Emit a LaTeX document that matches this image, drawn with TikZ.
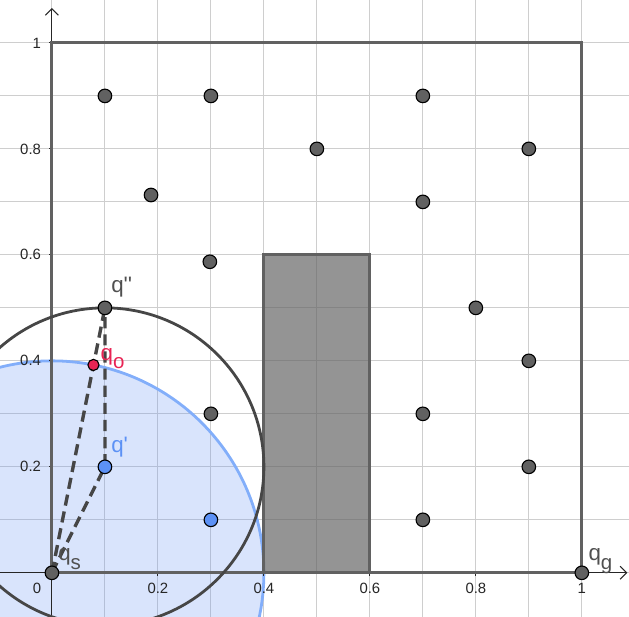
\documentclass[tikz,border=0pt]{standalone}
\usepackage{fontspec}
\setmainfont{Liberation Sans}
\usetikzlibrary{arrows.meta,positioning}
\definecolor{ggbGrid}{RGB}{206,206,206}
\definecolor{ggbDark}{RGB}{97,97,97}
\definecolor{ggbEdge}{RGB}{70,70,70}
\definecolor{ggbBlue}{RGB}{103,147,243}
\definecolor{ggbBlueLine}{RGB}{130,174,250}
\definecolor{ggbBluePt}{RGB}{92,145,245}
\definecolor{ggbRed}{RGB}{232,36,84}
\definecolor{ggbText}{RGB}{80,80,80}
\newcommand{\qsub}[1]{q\raisebox{-0.7ex}{\fontsize{11}{13}\selectfont #1}}
\pgfdeclarelayer{front}
\pgfsetlayers{main,front}
\tikzset{
  pt/.style={circle, draw=black, line width=0.6pt, fill=ggbDark, inner sep=0pt, minimum size=7.3pt},
  lbl/.style={inner sep=0pt, anchor=base west, font=\fontsize{12}{14}\selectfont},
  ticklbl/.style={inner sep=0pt, font=\fontsize{8}{10}\selectfont, text=black!85},
  edge/.style={ggbEdge, line width=1.8pt, dash pattern=on 6pt off 3.2pt}
}

\begin{document}
\begin{tikzpicture}[x=10cm,y=10cm]
    \useasboundingbox (-0.098,-0.083) rectangle (1.089,1.081);
    \draw[ggbGrid, line width=0.5pt, step=0.1] (-0.098,-0.083) grid (1.089,1.081);

    % free region round q_s
    \fill[ggbBlue, fill opacity=0.25] (0,0) circle (0.4);
    \draw[ggbBlueLine, line width=1.5pt] (0,0) circle (0.4);

    % axes
    \draw[black!85, line width=0.6pt, -{Straight Barb[length=3.5pt,width=7pt]}] (-0.098,0) -- (1.086,0);
    \draw[black!85, line width=0.6pt, -{Straight Barb[length=3.5pt,width=7pt]}] (0,-0.083) -- (0,1.066);
    \foreach \t in {0.2,0.4,0.6,0.8,1} {
        \draw[black!85, line width=0.5pt] (\t,0) -- (\t,-0.006);
        \draw[black!85, line width=0.5pt] (0,\t) -- (-0.006,\t);
        \node[ticklbl] at (\t,-0.029) {\t};
        \node[ticklbl, anchor=east] at (-0.020,\t) {\t};
    }
    \node[ticklbl] at (-0.028,-0.029) {0};

    % workspace and obstacle
    \draw[ggbDark, line width=1.6pt] (0,0) rectangle (1,1);
    \filldraw[fill=ggbDark, fill opacity=0.68, draw=ggbDark, line width=1.6pt] (0.4,0) rectangle (0.6,0.6);
    \draw[ggbEdge, line width=1.5pt] (0.1,0.2) circle (0.3);

    \begin{pgfonlayer}{front}
        \node[pt] (s1) at (0.1,0.9) {};
        \node[pt] (s2) at (0.3,0.9) {};
        \node[pt] (s3) at (0.7,0.9) {};
        \node[pt] (s4) at (0.5,0.8) {};
        \node[pt] (s5) at (0.9,0.8) {};
        \node[pt] (s6) at (0.187,0.713) {};
        \node[pt] (s7) at (0.7,0.7) {};
        \node[pt] (s8) at (0.298,0.587) {};
        \node[pt] (s9) at (0.8,0.5) {};
        \node[pt] (s10) at (0.9,0.4) {};
        \node[pt] (s11) at (0.3,0.3) {};
        \node[pt] (s12) at (0.7,0.3) {};
        \node[pt] (s13) at (0.9,0.2) {};
        \node[pt] (s14) at (0.7,0.1) {};
        \node[pt, fill=ggbBluePt] (s15) at (0.3,0.1) {};

        \node[pt] (qs) at (0,0) {};
        \node[pt] (qg) at (1,0) {};
        \node[pt] (qpp) at (0.1,0.5) {};
        \node[pt, fill=ggbBluePt] (qp) at (0.1,0.2) {};
        \node[pt, fill=ggbRed, minimum size=6pt] (qo) at (0.0784,0.3923) {};

        \node[lbl, text=ggbText] (qppl) at ([shift={(3.2pt,8pt)}]qpp.center) {q\textquotesingle\textquotesingle};
        \node[lbl, text=ggbRed] (qol) at ([shift={(3.7pt,2.4pt)}]qo.center) {\qsub{o}};
        \node[lbl, text=ggbBluePt] (qpl) at ([shift={(3.2pt,7.5pt)}]qp.center) {q\textquotesingle};
        \node[lbl, text=ggbText] (qsl) at ([shift={(3.2pt,6.4pt)}]qs.center) {\qsub{s}};
        \node[lbl, text=ggbText] (qgl) at ([shift={(3.4pt,6.4pt)}]qg.center) {\qsub{g}};
    \end{pgfonlayer}

    % candidate edges
    \draw[edge] (qs.center) -- (qpp.center);
    \draw[edge] (qs.center) -- (qp.center) -- (qpp.center);
\end{tikzpicture}
\end{document}
